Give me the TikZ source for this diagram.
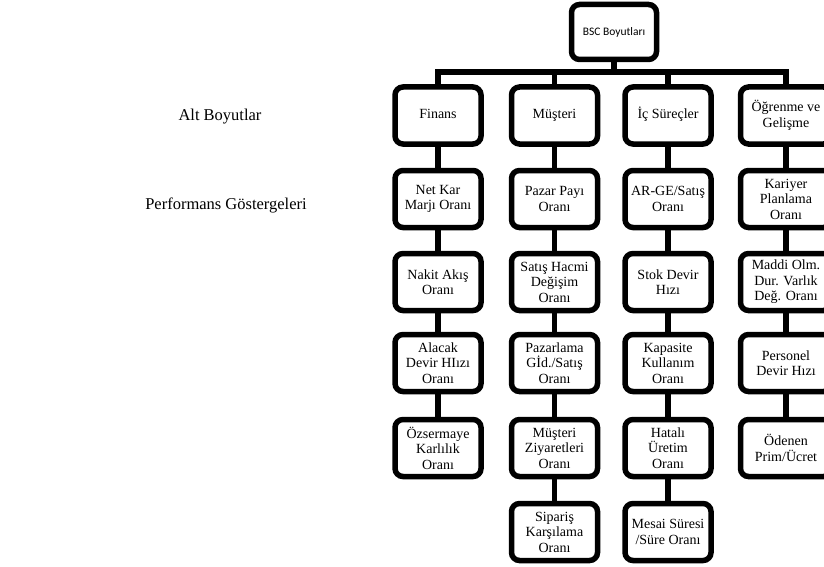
\documentclass[tikz,border=0pt]{standalone}
\usepackage{fontspec}
\setmainfont{Liberation Serif}
\newfontfamily\calib{Carlito}
\begin{document}
\begin{tikzpicture}[x=1pt,y=-1pt,
  box/.style={draw=black,line width=5.5pt,rounded corners=8pt,fill=white,
    minimum width=86pt,minimum height=57pt,inner sep=1pt,align=center,
    font=\fontsize{14}{15.5}\selectfont},
  one/.style={text height=9.5pt,text depth=3pt},
  conn/.style={line width=5.5pt,draw=black},
  side/.style={font=\fontsize{16.5}{19}\selectfont}]
\useasboundingbox (0,0) rectangle (824,567);
% top
\node[box,minimum width=85pt,minimum height=55pt,font=\calib\fontsize{11.5}{13}\selectfont] (bsc) at (614,32) {BSC Boyutları};
% level 1
\node[box,one] (f1) at (438,115.5) {Finans};
\node[box,one] (m1) at (554.5,115.5) {Müşteri};
\node[box,one] (i1) at (668,115.5) {İç Süreçler};
\node[box,minimum width=91pt] (o1) at (786,115.5) {Öğrenme ve\\Gelişme};
% Finans
\node[box] (f2) at (438,199) {Net Kar\\Marjı Oranı};
\node[box] (f3) at (438,282) {Nakit Akış\\Oranı};
\node[box] (f4) at (438,363) {Alacak\\Devir HIızı\\Oranı};
\node[box] (f5) at (438,448) {Özsermaye\\Karlılık\\Oranı};
% Musteri
\node[box] (m2) at (554.5,199) {Pazar Payı\\Oranı};
\node[box] (m3) at (554.5,282) {Satış Hacmi\\Değişim\\Oranı};
\node[box] (m4) at (554.5,363) {Pazarlama\\Gİd./Satış\\Oranı};
\node[box] (m5) at (554.5,448) {Müşteri\\Ziyaretleri\\Oranı};
\node[box] (m6) at (554.5,532) {Sipariş\\Karşılama\\Oranı};
% Ic surecler
\node[box] (i2) at (668,199) {AR-GE/Satış\\Oranı};
\node[box] (i3) at (668,282) {Stok Devir\\Hızı};
\node[box] (i4) at (668,363) {Kapasite\\Kullanım\\Oranı};
\node[box] (i5) at (668,448) {Hatalı\\Üretim\\Oranı};
\node[box] (i6) at (668,532) {Mesai Süresi\\/Süre Oranı};
% Ogrenme
\node[box,minimum width=91pt] (o2) at (786,199) {Kariyer\\Planlama\\Oranı};
\node[box,minimum width=91pt] (o3) at (786,282) {Maddi Olm.\\Dur. Varlık\\Değ. Oranı};
\node[box,minimum width=91pt] (o4) at (786,363) {Personel\\Devir Hızı};
\node[box,minimum width=91pt] (o5) at (786,448) {Ödenen\\Prim/Ücret};
% side labels
\node[side] (alt) at (220,117) {Alt Boyutlar};
\node[side] (perf) at (226,205) {Performans Göstergeleri};
% connectors
\coordinate (bar) at (0,72);
\draw[conn] (bsc.south) -- (bsc.south |- bar);
\draw[conn] (f1.north) -- (f1.north |- bar) -- (o1.north |- bar) -- (o1.north);
\draw[conn] (m1.north) -- (m1.north |- bar);
\draw[conn] (i1.north) -- (i1.north |- bar);
\foreach \c in {f,m,i,o}{
  \draw[conn] (\c1.south) -- (\c2.north);
  \draw[conn] (\c2.south) -- (\c3.north);
  \draw[conn] (\c3.south) -- (\c4.north);
  \draw[conn] (\c4.south) -- (\c5.north);
}
\draw[conn] (m5.south) -- (m6.north);
\draw[conn] (i5.south) -- (i6.north);
\end{tikzpicture}
\end{document}
